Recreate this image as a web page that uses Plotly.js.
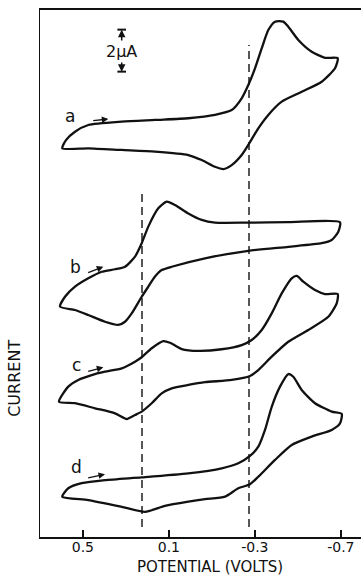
<!DOCTYPE html>
<html>
<head>
<meta charset="utf-8">
<script src="https://cdn.plot.ly/plotly-3.0.1.min.js"></script>
<style>html,body{margin:0;padding:0;background:#fff;}#chart{width:361px;height:577px;}</style>
</head>
<body>
<div id="chart"></div>
<script>
// Potential (V) and current (μA, with vertical offsets as drawn) for each voltammogram
const aPotential = [0.5956,0.5784,0.5365,0.4747,0.3193,0.1644,0.0095,-0.1147,-0.1923,-0.2388,-0.2695,-0.3007,-0.3319,-0.3626,-0.3937,-0.4323,-0.4556,-0.5021,-0.5644,-0.6263,-0.6853,
  -0.6728,-0.6109,-0.5179,-0.4249,-0.3626,-0.3160,-0.2695,-0.2388,-0.1923,-0.1533,-0.1147,-0.0528,0.0095,0.1644,0.3193,0.4747,0.5956];
const aCurrent = [18.51,18.90,19.30,19.62,19.78,19.86,19.94,20.10,20.33,20.89,21.52,22.32,23.27,24.14,24.54,24.54,24.30,23.67,23.11,22.82,22.80,
  22.32,21.68,21.20,20.73,20.10,19.46,18.67,18.19,17.71,17.52,17.63,17.95,18.19,18.35,18.43,18.51,18.51];

const bPotential = [0.6063,0.5830,0.5365,0.4747,0.4123,0.3505,0.3040,0.2574,0.2263,0.1956,0.1491,0.1100,0.0714,0.0095,-0.0528,-0.1147,-0.2695,-0.4556,-0.6960,
  -0.6881,-0.6574,-0.6109,-0.4556,-0.2695,-0.0681,0.0867,0.1333,0.1644,0.1956,0.2263,0.2728,0.3040,0.3351,0.3970,0.4747,0.5365,0.6063];
const bCurrent = [10.97,11.44,11.92,12.32,12.63,12.75,12.87,13.35,13.99,14.78,15.65,15.97,15.81,15.41,15.10,14.97,14.97,14.99,14.99,
  14.54,14.14,13.99,13.82,13.63,13.27,12.87,12.71,12.40,11.92,11.44,10.65,10.25,10.10,10.25,10.57,10.81,10.97];

const cPotential = [0.6109,0.5677,0.5212,0.4588,0.3970,0.3193,0.2574,0.2263,0.1798,0.1258,0.0947,0.0402,-0.0370,-0.1458,-0.2388,-0.2853,-0.3319,-0.3784,-0.4249,-0.4714,-0.4947,-0.5253,-0.5798,-0.6263,-0.6853,
  -0.6807,-0.6416,-0.5486,-0.4556,-0.3784,-0.3160,-0.2774,-0.1923,-0.0681,0.0095,0.0867,0.1333,0.1798,0.2263,0.2574,0.2960,0.3505,0.4435,0.5365,0.6109];
const cCurrent = [6.44,7.16,7.48,7.71,7.87,8.03,8.35,8.56,8.99,9.33,9.25,8.95,8.86,8.94,9.14,9.38,9.86,10.65,11.60,12.32,12.43,12.16,11.76,11.57,11.57,
  11.13,10.49,9.86,9.30,8.59,7.95,7.67,7.48,7.37,7.24,7.08,6.84,6.37,5.97,5.81,5.62,5.89,6.13,6.37,6.44];

const dPotential = [0.5956,0.5677,0.5053,0.3970,0.2263,0.0095,-0.1458,-0.2230,-0.2774,-0.3160,-0.3472,-0.3784,-0.4170,-0.4556,-0.4788,-0.5179,-0.5798,-0.6574,-0.7040,
  -0.6960,-0.6574,-0.5644,-0.4714,-0.3937,-0.3160,-0.2774,-0.2230,-0.1612,-0.0681,0.0095,0.1179,0.2109,0.3193,0.4747,0.5956];
const dCurrent = [1.92,2.32,2.56,2.71,2.84,3.03,3.27,3.51,3.86,4.30,5.10,6.20,7.16,7.76,7.63,7.00,6.37,5.97,5.86,
  5.41,5.10,4.78,4.38,3.67,2.87,2.51,2.32,1.92,1.80,1.68,1.48,1.20,1.44,1.76,1.92];

// Reference potentials (dashed lines) and their vertical extents
const dashPotential = [0.2249, -0.2728];
const dashTop = [16.52, 23.43];
const dashBottom = 0.48;

// Curve labels and scan-direction arrows
const labelText = ['a','b','c','d'];
const labelPotential = [0.5598, 0.5365, 0.5286, 0.5286];
const labelCurrent = [20.05, 12.87, 8.19, 3.32];
const arrowFromPotential = [0.4588, 0.4821, 0.4821, 0.4821];
const arrowFromCurrent = [19.82, 12.56, 7.87, 2.80];
const arrowToPotential = [0.3816, 0.4049, 0.4049, 0.3970];
const arrowToCurrent = [19.90, 12.87, 8.08, 2.99];

// Scale bar: 2 μA
const scalePotential = 0.3193;
const scaleBottom = 22.16;
const scaleSize = 2;

// Axis ticks
const tickVals = [0.5, 0.1, -0.3, -0.7];
const tickText = ['0.5', '0.1', '-0.3', '-0.7'];

const lineStyle = {color: '#111', width: 2.3, shape: 'spline', smoothing: 0.6};
const series = [[aPotential, aCurrent], [bPotential, bCurrent], [cPotential, cCurrent], [dPotential, dCurrent]];
const traces = series.map(s => ({x: s[0], y: s[1], mode: 'lines', line: lineStyle, hoverinfo: 'skip', showlegend: false}));

const shapes = dashPotential.map((p, i) => ({
  type: 'line', xref: 'x', yref: 'y', x0: p, x1: p, y0: dashBottom, y1: dashTop[i],
  line: {color: '#111', width: 1.4, dash: '8px,5px'}
}));
const barHalf = 0.02;
shapes.push({type: 'line', xref: 'x', yref: 'y', x0: scalePotential - barHalf, x1: scalePotential + barHalf, y0: scaleBottom + scaleSize, y1: scaleBottom + scaleSize, line: {color: '#111', width: 2}});
shapes.push({type: 'line', xref: 'x', yref: 'y', x0: scalePotential - barHalf, x1: scalePotential + barHalf, y0: scaleBottom, y1: scaleBottom, line: {color: '#111', width: 2}});

const font = 'DejaVu Sans, sans-serif';
const annotations = [];
labelText.forEach((t, i) => {
  annotations.push({x: labelPotential[i], y: labelCurrent[i], xref: 'x', yref: 'y', text: t, showarrow: false,
    font: {family: font, size: 17, color: '#111'}});
  annotations.push({x: arrowToPotential[i], y: arrowToCurrent[i], ax: arrowFromPotential[i], ay: arrowFromCurrent[i],
    xref: 'x', yref: 'y', axref: 'x', ayref: 'y', text: '', showarrow: true, arrowhead: 2, arrowsize: 1, arrowwidth: 1.3, arrowcolor: '#111'});
});
// scale bar arrows and label
annotations.push({x: scalePotential, y: scaleBottom + scaleSize, ax: scalePotential, ay: scaleBottom + scaleSize * 0.6,
  xref: 'x', yref: 'y', axref: 'x', ayref: 'y', text: '', showarrow: true, arrowhead: 2, arrowsize: 1, arrowwidth: 1.5, arrowcolor: '#111'});
annotations.push({x: scalePotential, y: scaleBottom, ax: scalePotential, ay: scaleBottom + scaleSize * 0.4,
  xref: 'x', yref: 'y', axref: 'x', ayref: 'y', text: '', showarrow: true, arrowhead: 2, arrowsize: 1, arrowwidth: 1.5, arrowcolor: '#111'});
annotations.push({x: scalePotential, y: scaleBottom + scaleSize * 0.47, xref: 'x', yref: 'y', text: '2μA', showarrow: false,
  bgcolor: '#fff', font: {family: font, size: 16, color: '#111'}});
annotations.push({x: -0.078, y: 0.302, xref: 'paper', yref: 'paper', xanchor: 'center', yanchor: 'middle',
  text: 'CURRENT', textangle: -90, showarrow: false,
  font: {family: font, size: 16, color: '#111'}});
// x-axis title, placed at the very bottom as in the reference
annotations.push({x: 0.53, y: -0.0755, xref: 'paper', yref: 'paper', xanchor: 'center', yanchor: 'bottom',
  text: 'POTENTIAL (VOLTS)', showarrow: false, borderpad: 0,
  font: {family: font, size: 15, color: '#111'}});

const layout = {
  width: 361, height: 577,
  margin: {l: 40, r: 0, t: 10, b: 40},
  paper_bgcolor: '#fff', plot_bgcolor: '#fff',
  showlegend: false,
  xaxis: {
    range: [0.6993, -0.7937], showgrid: false, zeroline: false,
    showline: true, linecolor: '#111', linewidth: 1.6, mirror: true,
    ticks: 'inside', ticklen: 7, tickwidth: 1.4, tickcolor: '#111',
    tickvals: tickVals, ticktext: tickText, ticklabelstandoff: -3,
    tickfont: {family: font, size: 14, color: '#111'}
  },
  yaxis: {
    range: [0, 25.095], showgrid: false, zeroline: false,
    showline: true, linecolor: '#111', linewidth: 1.2,
    showticklabels: false, ticks: ''
  },
  shapes: shapes,
  annotations: annotations
};

Plotly.newPlot('chart', traces, layout, {staticPlot: true, displayModeBar: false});
</script>
</body>
</html>
